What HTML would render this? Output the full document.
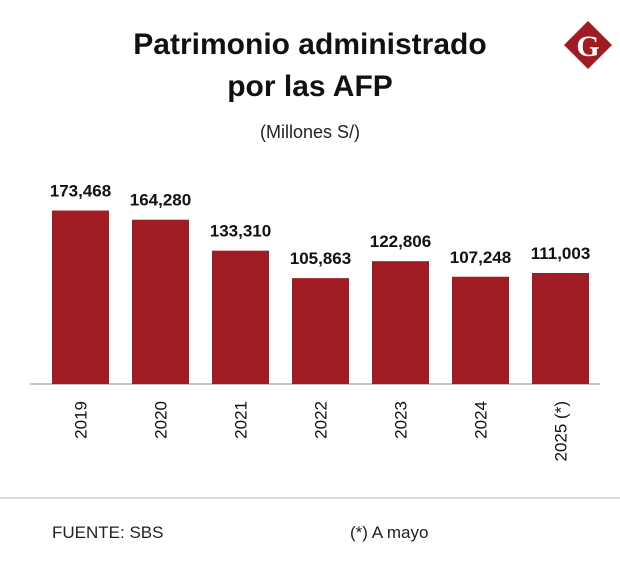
<!DOCTYPE html>
<html><head><meta charset="utf-8"><style>
body{margin:0;background:#fff;}
svg{display:block;font-family:"Liberation Sans",sans-serif;}
</style></head><body>
<svg width="620" height="570" viewBox="0 0 620 570">
<rect width="620" height="570" fill="#fff"/>
<text x="310" y="54" text-anchor="middle" font-size="30" font-weight="bold" fill="#111">Patrimonio administrado</text>
<text x="310" y="96" text-anchor="middle" font-size="30" font-weight="bold" fill="#111">por las AFP</text>
<text x="310" y="138" text-anchor="middle" font-size="18" fill="#222">(Millones S/)</text>
<g>
<polygon points="588,21 612,45 588,69 564,45" fill="#a01c22"/>
<text x="588" y="56" text-anchor="middle" font-family="Liberation Serif,serif" font-weight="bold" font-size="30" fill="#fff">G</text>
</g>
<line x1="30" y1="384" x2="600" y2="384" stroke="#888" stroke-width="1"/>
<g id="bars"></g>
<line x1="0" y1="498" x2="620" y2="498" stroke="#ddd" stroke-width="2"/>
<text x="52" y="538" font-size="17" fill="#222">FUENTE: SBS</text>
<text x="350" y="538" font-size="17" fill="#222">(*) A mayo</text>
</svg>
<script>
const categories=["2019","2020","2021","2022","2023","2024","2025 (*)"];
const values=[173468,164280,133310,105863,122806,107248,111003];
const valueLabels=["173,468","164,280","133,310","105,863","122,806","107,248","111,003"];
const base=384, scale=0.001, x0=52, step=80, bw=57;
const yS=v=>base-v*scale;
const xS=i=>x0+i*step;
const g=document.getElementById('bars');
const NS="http://www.w3.org/2000/svg";
values.forEach((v,i)=>{
  const r=document.createElementNS(NS,'rect');
  r.setAttribute('x',xS(i));r.setAttribute('y',yS(v));
  r.setAttribute('width',bw);r.setAttribute('height',base-yS(v));
  r.setAttribute('fill','#a01c22');
  
  
  g.appendChild(r);
  const t=document.createElementNS(NS,'text');
  t.setAttribute('x',xS(i)+bw/2);t.setAttribute('y',yS(v)-14);
  t.setAttribute('text-anchor','middle');t.setAttribute('font-size','17');
  t.setAttribute('font-weight','bold');t.setAttribute('fill','#111');
  t.textContent=valueLabels[i];
  
  
  g.appendChild(t);
  const c=document.createElementNS(NS,'text');
  const cx=xS(i)+bw/2+6, cy=401;
  c.setAttribute('x',cx);c.setAttribute('y',cy);
  c.setAttribute('text-anchor','end');c.setAttribute('font-size','17');c.setAttribute('fill','#111');
  c.setAttribute('transform','rotate(-90 '+cx+' '+cy+')');
  c.textContent=categories[i];
  
  
  g.appendChild(c);
});
</script>
</body></html>
